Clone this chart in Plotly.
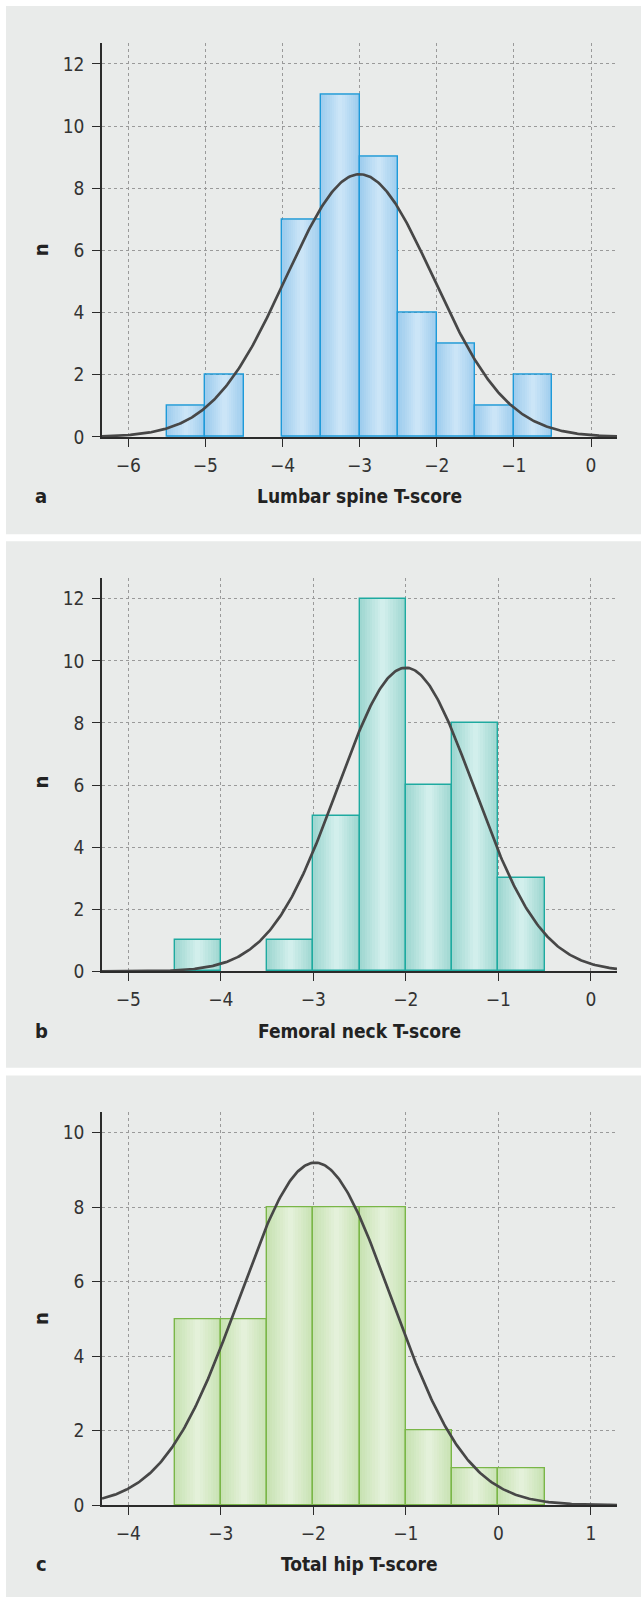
import numpy as np
import plotly.graph_objects as go

# ---------------- data ----------------
BIN_W = 0.5
# Panel a: Lumbar spine T-score
a_bin_left = [-5.5, -5.0, -4.5, -4.0, -3.5, -3.0, -2.5, -2.0, -1.5, -1.0]
a_counts = [1, 2, 0, 7, 11, 9, 4, 3, 1, 2]
a_curve_mean, a_curve_sd, a_curve_peak = -3.0, 0.955, 8.45

# Panel b: Femoral neck T-score
b_bin_left = [-4.5, -4.0, -3.5, -3.0, -2.5, -2.0, -1.5, -1.0]
b_counts = [1, 0, 1, 5, 12, 6, 8, 3]
b_curve_mean, b_curve_sd, b_curve_peak = -2.0, 0.735, 9.78

# Panel c: Total hip T-score
c_bin_left = [-3.5, -3.0, -2.5, -2.0, -1.5, -1.0, -0.5, 0.0]
c_counts = [5, 5, 8, 8, 8, 2, 1, 1]
c_curve_mean, c_curve_sd, c_curve_peak = -1.98, 0.82, 9.2

titles = ["Lumbar spine T-score", "Femoral neck T-score", "Total hip T-score"]
letters = ["a", "b", "c"]

# ---------------- layout constants ----------------
W, H = 641, 1608
FONT = "Liberation Sans Narrow, DejaVu Sans Condensed, Roboto, sans-serif"
TXT = "#333333"
GRID = "#9a9a9a"
PANEL_BG = "#e9ebea"

def px_x(x):
    return x / W

def px_y(y):
    return 1 - y / H

panels = [
    dict(bins=a_bin_left, counts=a_counts, mu=a_curve_mean, sd=a_curve_sd, pk=a_curve_peak,
         xr=[-6.34, 0.337], yr=[0, 12.68], ytop=43, ybot=440,
         gray=(6, 538), n_y=252, label_y=499.5,
         edge="#9fcdee", mid="#cbe5f7", line="#1e9ad9"),
    dict(bins=b_bin_left, counts=b_counts, mu=b_curve_mean, sd=b_curve_sd, pk=b_curve_peak,
         xr=[-5.285, 0.283], yr=[0, 12.67], ytop=582, ybot=978,
         gray=(545, 1075), n_y=788, label_y=1038,
         edge="#9fd7d1", mid="#d2efec", line="#1eaaa0"),
    dict(bins=c_bin_left, counts=c_counts, mu=c_curve_mean, sd=c_curve_sd, pk=c_curve_peak,
         xr=[-4.285, 1.283], yr=[0, 10.55], ytop=1120, ybot=1515.5,
         gray=(1083, 1608), n_y=1328, label_y=1575,
         edge="#c8e2b3", mid="#e4f1da", line="#7ab648"),
]

def hex2rgb(h):
    h = h.lstrip("#")
    return tuple(int(h[i:i + 2], 16) for i in (0, 2, 4))

def mix(c1, c2, t):
    a, b = hex2rgb(c1), hex2rgb(c2)
    return "rgb(%d,%d,%d)" % tuple(round(a[i] + (b[i] - a[i]) * t) for i in range(3))

fig = go.Figure()
shapes = []
annotations = []
x_left, x_right = 102, 617

for i, p in enumerate(panels):
    k = "" if i == 0 else str(i + 1)
    xa, ya = "x" + k, "y" + k
    # gray panel background
    shapes.append(dict(type="rect", xref="paper", yref="paper", layer="below",
                       x0=px_x(6), x1=1.0, y0=px_y(p["gray"][1]), y1=px_y(p["gray"][0]),
                       fillcolor=PANEL_BG, line=dict(width=0)))
    centers = [b + BIN_W / 2 for b in p["bins"]]
    xs = [c for c, n in zip(centers, p["counts"]) if n > 0]
    ys = [n for n in p["counts"] if n > 0]
    # gradient bars: stacked layers from outer (darker) to inner (lighter)
    steps = 9
    for s in range(steps):
        t = s / (steps - 1)
        w = BIN_W * (1 - s / steps)
        fig.add_trace(go.Bar(x=xs, y=ys, width=w, xaxis=xa, yaxis=ya,
                             marker=dict(color=mix(p["edge"], p["mid"], t), line=dict(width=0)),
                             hoverinfo="skip", showlegend=False))
    # bar outlines
    fig.add_trace(go.Bar(x=xs, y=ys, width=BIN_W, xaxis=xa, yaxis=ya,
                         marker=dict(color="rgba(0,0,0,0)", line=dict(color=p["line"], width=1.4)),
                         showlegend=False))
    # fitted normal curve
    cx = np.linspace(p["xr"][0], p["xr"][1], 400)
    cy = p["pk"] * np.exp(-(cx - p["mu"]) ** 2 / (2 * p["sd"] ** 2))
    fig.add_trace(go.Scatter(x=cx, y=cy, mode="lines", xaxis=xa, yaxis=ya,
                             line=dict(color="#474747", width=2.7), showlegend=False,
                             cliponaxis=True))
    axis_common = dict(showline=True, linecolor="#2b2b2b", linewidth=1.6,
                       ticks="outside", ticklen=8, tickwidth=1.4, tickcolor="#2b2b2b",
                       showgrid=True, gridcolor=GRID, griddash="dot", gridwidth=1.2,
                       zeroline=False, tickfont=dict(family=FONT, size=19, color=TXT),
                       fixedrange=True)
    fig.layout["xaxis" + k] = dict(axis_common, domain=[px_x(x_left), px_x(x_right)],
                                   range=p["xr"], dtick=1, tick0=0, anchor=ya,
                                   ticklabelstandoff=2)
    fig.layout["yaxis" + k] = dict(axis_common, domain=[px_y(p["ybot"]), px_y(p["ytop"])],
                                   range=p["yr"], dtick=2, tick0=0, anchor=xa,
                                   ticklabelstandoff=4)
    # axis titles and panel letter
    annotations.append(dict(xref="paper", yref="paper", x=px_x((x_left + x_right) / 2),
                            y=px_y(p["label_y"]), text="<b>%s</b>" % titles[i], showarrow=False,
                            xanchor="center", yanchor="middle",
                            font=dict(family=FONT, size=19, color="#222222")))
    annotations.append(dict(xref="paper", yref="paper", x=px_x(41), y=px_y(p["label_y"]),
                            text="<b>%s</b>" % letters[i], showarrow=False,
                            xanchor="center", yanchor="middle",
                            font=dict(family=FONT, size=20, color="#222222")))
    annotations.append(dict(xref="paper", yref="paper", x=px_x(41), y=px_y(p["n_y"]),
                            text="<b>n</b>", showarrow=False, textangle=-90,
                            xanchor="center", yanchor="middle",
                            font=dict(family=FONT, size=20, color="#222222")))

# white separator strips are the paper background
fig.update_layout(width=W, height=H, margin=dict(l=0, r=0, t=0, b=0),
                  paper_bgcolor="white", plot_bgcolor="white",
                  barmode="overlay", bargap=0, showlegend=False,
                  shapes=shapes, annotations=annotations)

fig.write_html("out.html", config={"displayModeBar": False},
               post_script="document.body.style.margin='0';document.body.style.overflow='hidden';")
